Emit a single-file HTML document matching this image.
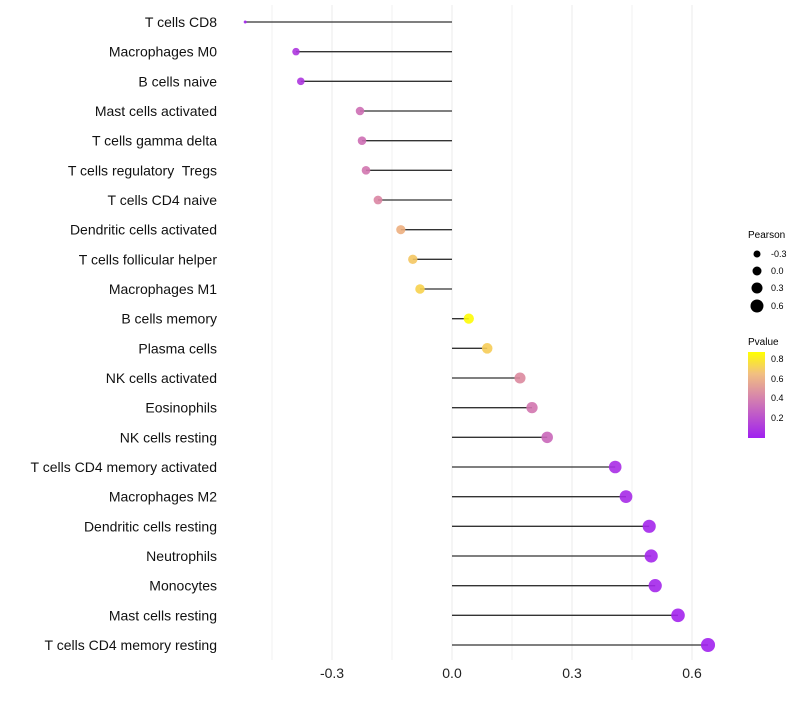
<!DOCTYPE html>
<html><head><meta charset="utf-8"><style>
body{margin:0;background:#fff;font-family:"Liberation Sans",sans-serif}
text{white-space:pre}
</style></head><body>
<svg id="chart" width="800" height="700" xmlns="http://www.w3.org/2000/svg">
<defs><linearGradient id="pg" x1="0" y1="1" x2="0" y2="0">
<stop offset="0" stop-color="#a020f0"/><stop offset="0.5" stop-color="#d98aa8"/><stop offset="0.75" stop-color="#f2c080"/><stop offset="1" stop-color="#ffff00"/></linearGradient></defs>
<g id="grid"></g><g id="marks"></g><g id="labels"></g>
<g font-size="9">
<text x="748" y="238" font-size="10">Pearson</text>
<circle cx="757" cy="254" r="3.5"/><text x="771" y="257">-0.3</text>
<circle cx="757" cy="271" r="4.5"/><text x="771" y="274">0.0</text>
<circle cx="757" cy="288" r="5.5"/><text x="771" y="291">0.3</text>
<circle cx="757" cy="306" r="6.5"/><text x="771" y="309">0.6</text>
</g>
<g font-size="9">
<text x="748" y="345" font-size="10">Pvalue</text>
<rect x="748" y="352" width="17" height="86" fill="url(#pg)"/>
<text x="771" y="362">0.8</text><text x="771" y="382">0.6</text><text x="771" y="401">0.4</text><text x="771" y="421">0.2</text>
</g>
</svg>
<script>
const categories=["T cells CD8","Macrophages M0","B cells naive","Mast cells activated","T cells gamma delta","T cells regulatory  Tregs","T cells CD4 naive","Dendritic cells activated","T cells follicular helper","Macrophages M1","B cells memory","Plasma cells","NK cells activated","Eosinophils","NK cells resting","T cells CD4 memory activated","Macrophages M2","Dendritic cells resting","Neutrophils","Monocytes","Mast cells resting","T cells CD4 memory resting"];
const pearson=[-0.517,-0.39,-0.378,-0.23,-0.225,-0.215,-0.185,-0.128,-0.098,-0.08,0.042,0.088,0.17,0.2,0.238,0.408,0.435,0.493,0.498,0.508,0.565,0.64];
const pvalue=[0.02,0.1,0.1,0.35,0.35,0.38,0.45,0.62,0.7,0.74,0.87,0.72,0.47,0.38,0.32,0.06,0.05,0.03,0.03,0.03,0.02,0.01];
const xTicks=[-0.3,0.0,0.3,0.6];
const xTickLabels=["-0.3","0.0","0.3","0.6"];
const X=v=>452+v*400, Y=i=>22+i*(623/21);
const ns="http://www.w3.org/2000/svg";
function mk(t,a,p){const e=document.createElementNS(ns,t);for(const k in a)e.setAttribute(k,a[k]);p.appendChild(e);return e;}
function lerp(a,b,t){return a.map((x,i)=>Math.round(x+(b[i]-x)*t));}
function col(p){const t=Math.max(0,Math.min(1,p/0.88));const s=[[0,[160,32,240]],[0.5,[217,130,165]],[0.75,[242,185,120]],[1,[255,255,0]]];
for(let i=1;i<s.length;i++)if(t<=s[i][0]){const c=lerp(s[i-1][1],s[i][1],(t-s[i-1][0])/(s[i][0]-s[i-1][0]));return `rgb(${c})`;}return "rgb(255,255,0)";}
const g=document.getElementById('grid'),m=document.getElementById('marks'),L=document.getElementById('labels');
[-0.45,-0.15,0.15,0.45].forEach(v=>{const l=mk('line',{x1:X(v),x2:X(v),y1:5,y2:660,stroke:'#f2f2f2','stroke-width':1},g);

});
xTicks.forEach((v,i)=>{const l=mk('line',{x1:X(v),x2:X(v),y1:5,y2:660,stroke:'#ebebeb','stroke-width':1},g);


const t=mk('text',{x:X(v),y:678,'text-anchor':'middle','font-size':14,fill:'#222'},L);t.textContent=xTickLabels[i];

});
categories.forEach((c,i)=>{const y=Y(i);
const t=mk('text',{x:217,y:y+5,'text-anchor':'end','font-size':14,fill:'#111'},L);t.textContent=c;


const ln=mk('line',{x1:X(0),x2:X(pearson[i]),y1:y,y2:y,stroke:'#333','stroke-width':1.3},m);


const v=pearson[i];
const r=v<-0.45?1.5:5+3.2*v;
const d=mk('circle',{cx:X(v),cy:y,r:r,fill:col(pvalue[i]),'fill-opacity':0.9},m);

});
</script>
</body></html>
